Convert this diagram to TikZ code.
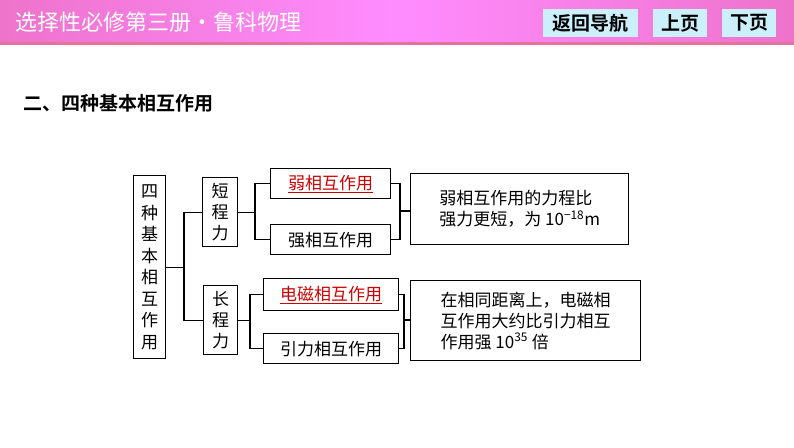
\documentclass[tikz,border=0pt]{standalone}
\usepackage{fontspec}
\newfontfamily\cjk{Noto Sans CJK SC}
\newfontfamily\cjkb{Noto Sans CJK SC Bold}
\setmainfont{Liberation Serif}
\begin{document}
\begin{tikzpicture}[x=1pt,y=-1pt,
 bx/.style={draw,line width=1.4pt,inner sep=0pt,anchor=north west},
 t/.style={font=\cjk\fontsize{17}{21}\selectfont},
 ln/.style={line width=1.4pt}]
\useasboundingbox (0,0) rectangle (794,447);
\fill[white] (0,0) rectangle (794,447);
\shade[left color=magenta!50!purple!55!white, right color=magenta!50!purple!55!white, middle color=magenta!45!white] (0,0) rectangle (794,44);
\fill[magenta!50!purple!60] (0,42) rectangle (794,45);
\node[anchor=west,text=white,font=\cjk\fontsize{22}{24}\selectfont] (hd) at (12,22) {选择性必修第三册·鲁科物理};
\node[fill=cyan!20!white,minimum width=95,minimum height=28,inner sep=0,font=\cjkb\fontsize{19}{20}\selectfont] (b1) at (590,23) {返回导航};
\node[fill=cyan!20!white,minimum width=54,minimum height=28,inner sep=0,font=\cjkb\fontsize{19}{20}\selectfont] (b2) at (680,23) {上页};
\node[fill=cyan!20!white,minimum width=54,minimum height=28,inner sep=0,font=\cjkb\fontsize{19}{20}\selectfont] (b3) at (749,23) {下页};
\node[anchor=west,font=\cjkb\fontsize{19}{21}\selectfont] (ti) at (20,103) {二、四种基本相互作用};
\node[bx,minimum width=32,minimum height=183,font=\cjk\fontsize{17}{21.5}\selectfont,align=center] (a) at (133,175) {四\\种\\基\\本\\相\\互\\作\\用};
\node[bx,minimum width=35,minimum height=69,font=\cjk\fontsize{17}{21}\selectfont,align=center] (s) at (202,177) {短\\程\\力};
\node[bx,minimum width=34,minimum height=69,font=\cjk\fontsize{17}{21}\selectfont,align=center] (l) at (203,285) {长\\程\\力};
\node[bx,minimum width=120,minimum height=30,t,text=red!80!black] (w) at (270,168) {\underline{弱相互作用}};
\node[bx,minimum width=120,minimum height=30,t] (q) at (270,224) {强相互作用};
\node[bx,minimum width=135,minimum height=32,t,text=red!80!black] (e) at (263,278) {\underline{电磁相互作用}};
\node[bx,minimum width=135,minimum height=30,t] (g) at (263,333) {引力相互作用};
\node[bx,minimum width=218,minimum height=71,t,align=left] (d1) at (410,173) {弱相互作用的力程比\\强力更短，为 10\textsuperscript{−18}m};
\node[bx,minimum width=230,minimum height=80,t,align=left] (d2) at (410,280) {在相同距离上，电磁相\\互作用大约比引力相互\\作用强 10\textsuperscript{35} 倍};
\coordinate (j1) at (184,266);
\draw[ln] (a.east) -- (a.east -| j1);
\draw[ln] (s.west) -| (j1) |- (l.west);
\coordinate (j2) at (255,211);
\draw[ln] (s.east) -- (s.east -| j2);
\draw[ln] (w.west) -| (j2) |- (q.west);
\coordinate (j3) at (250,319);
\draw[ln] (l.east) -- (l.east -| j3);
\draw[ln] (e.west) -| (j3) |- (g.west);
\coordinate (k1) at (400,211);
\draw[ln] (w.east) -| (k1) |- (q.east);
\draw[ln] (k1) -- (d1.west|-k1);
\coordinate (k2) at (404,320);
\draw[ln] (e.east) -| (k2) |- (g.east);
\draw[ln] (k2) -- (d2.west|-k2);
\end{tikzpicture}
\end{document}
